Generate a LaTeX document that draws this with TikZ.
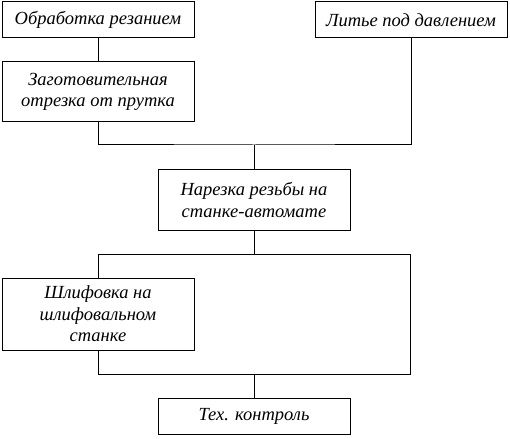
\documentclass[tikz,border=0pt]{standalone}
\usepackage{fontspec}
\setmainfont{Liberation Serif}
\begin{document}
\begin{tikzpicture}[x=1pt,y=1pt,
  blk/.style={draw,line width=1pt,rectangle,inner sep=0pt,align=center,
    font=\fontsize{18.5}{21.5}\selectfont\itshape},
  ln/.style={line width=1pt}]
\useasboundingbox (0,0) rectangle (510,-438);
\node[blk,minimum width=192,minimum height=36] (b1) at (98,-20) {Обработка резанием};
\node[blk,minimum width=192,minimum height=60] (b2) at (98,-92) {Заготовительная\\отрезка от прутка};
\node[blk,minimum width=192,minimum height=36] (b3) at (411,-20) {Литье под давлением};
\node[blk,minimum width=192,minimum height=60] (b4) at (254,-200) {Нарезка резьбы на\\станке-автомате};
\node[blk,minimum width=192,minimum height=72] (b5) at (98,-314) {Шлифовка на\\шлифовальном\\станке};
\node[blk,minimum width=192,minimum height=36] (b6) at (254,-416) {Тех. контроль};
\coordinate (j1) at (254,-145);
\coordinate (j2) at (254,-254);
\coordinate (j3) at (254,-374);
\coordinate (rt) at (410,-254);
\coordinate (rb) at (410,-374);
\draw[ln] (b1.south) -- (b2.north);
\draw[ln] (b2.south) |- (j1) -| (b3.south);
\draw[ln] (j1) -- (b4.north);
\draw[ln] (b4.south) -- (j2);
\draw[ln] (b5.north) |- (rt) -- (rb) -| (b5.south);
\draw[ln] (j3) -- (b6.north);
\end{tikzpicture}
\end{document}
